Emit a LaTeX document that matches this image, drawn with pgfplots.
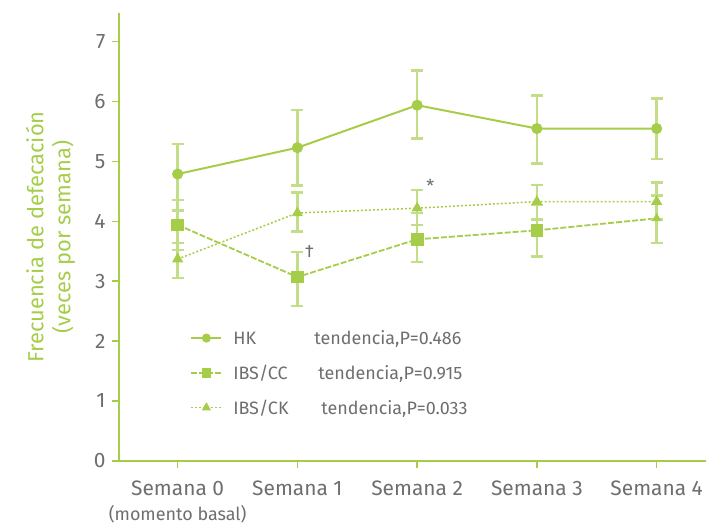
\documentclass[border=0pt]{standalone}
\usepackage{pgfplots}
\pgfplotsset{compat=1.18}
\usepackage{fontspec}
\setmainfont{Fira Sans}
\definecolor{lg}{HTML}{A5CD4A}
\definecolor{eg}{HTML}{C2DE88}
\definecolor{tg}{HTML}{6D6E70}
\begin{document}
\begin{tikzpicture}
\begin{axis}[
 scale only axis, width=587bp, height=448bp,
 xmin=-0.49, xmax=4.41, ymin=0, ymax=7.48,
 axis x line=bottom, axis y line=left,
 axis line style={lg, line width=2.5bp, -},
 xtick={0,1,2,3,4},
 xticklabels={{Semana 0\\[2bp]{\fontsize{18}{20}\selectfont (momento basal)}},{Semana 1},{Semana 2},{Semana 3},{Semana 4}},
 ytick={0,1,2,3,4,5,6,7},
 tick style={lg, line width=1.5bp}, tick align=outside, major tick length=7bp,
 ticklabel style={tg, font=\fontsize{21}{24}\selectfont},
 /pgf/number format/assume math mode=true,
 xticklabel style={align=center, anchor=north, yshift=-9bp, font=\fontsize{21}{24}\selectfont},
 yticklabel style={xshift=-3bp},
 ylabel={Frecuencia de defecación\\(veces por semana)},
 ylabel style={lg, align=center, font=\fontsize{22}{27}\selectfont, yshift=12bp},
 legend style={at={(axis cs:0.08,2.25)}, anchor=north west, draw=none, fill=none,
   font=\fontsize{18}{21}\selectfont, text=tg, row sep=15bp, cells={anchor=west},
   /tikz/every odd column/.append style={column sep=9bp}},
 legend image code/.code={\draw[mark repeat=2,mark phase=2] plot coordinates {(0bp,0bp) (15bp,0bp) (30bp,0bp)};},
 error bars/y dir=both, error bars/y explicit,
 error bars/error bar style={eg, line width=2.5bp, solid},
 error bars/error mark options={eg, rotate=90, mark size=6bp, line width=2.5bp, solid},
]
\addlegendimage{lg, line width=2bp, mark=*, mark size=3.5bp, mark options={solid, fill=lg}}
\addlegendentry{\makebox[81bp][l]{HK}tendencia,P=0.486}
\addlegendimage{lg, line width=1.8bp, dash pattern=on 6bp off 2bp, mark=square*, mark size=4bp, mark options={solid, fill=lg}}
\addlegendentry{\makebox[85bp][l]{IBS/CC}tendencia,P=0.915}
\addlegendimage{lg, line width=1.5bp, dash pattern=on 2bp off 2bp, mark=triangle*, mark size=4bp, mark options={solid, fill=lg}}
\addlegendentry{\makebox[88bp][l]{IBS/CK}tendencia,P=0.033}
\addplot[lg, line width=2bp, mark=*, mark size=4.5bp, mark options={solid, fill=lg}, forget plot] coordinates {
(0,4.79) += (0,0.50) -= (0,0.61)
(1,5.23) += (0,0.63) -= (0,0.63)
(2,5.94) += (0,0.58) -= (0,0.56)
(3,5.55) += (0,0.55) -= (0,0.58)
(4,5.55) += (0,0.50) -= (0,0.51)
};
\addplot[lg, line width=1.8bp, dash pattern=on 6bp off 2bp, mark=square*, mark size=5.5bp, mark options={solid, fill=lg}, mark indices={1,2,3,4}, forget plot] coordinates {
(0,3.94) += (0,0.42) -= (0,0.42)
(1,3.07) += (0,0.42) -= (0,0.48)
(2,3.70) += (0,0.44) -= (0,0.38)
(3,3.85) += (0,0.42) -= (0,0.44)
(4,4.05) += (0,0.38) -= (0,0.41)
};
\addplot[lg, line width=1.5bp, dash pattern=on 2bp off 2bp, mark=triangle*, mark size=5bp, mark options={solid, fill=lg}, forget plot] coordinates {
(0,3.37) += (0,0.27) -= (0,0.32)
(1,4.14) += (0,0.34) -= (0,0.31)
(2,4.22) += (0,0.30) -= (0,0.28)
(3,4.33) += (0,0.28) -= (0,0.30)
(4,4.33) += (0,0.32) -= (0,0.30)
};
\addplot[lg, only marks, mark=triangle*, mark size=5bp, mark options={solid, fill=lg}, forget plot] coordinates {(4,4.05)};
\node[tg, font=\fontsize{18}{20}\selectfont] at (axis cs:1.1,3.5) {†};
\node[tg, font=\fontsize{18}{20}\selectfont] at (axis cs:2.11,4.6) {*};
\end{axis}
\path (current axis.south west) ++(-119bp,-66bp);
\path (current axis.north east) ++(1bp,13bp);
\end{tikzpicture}
\end{document}
